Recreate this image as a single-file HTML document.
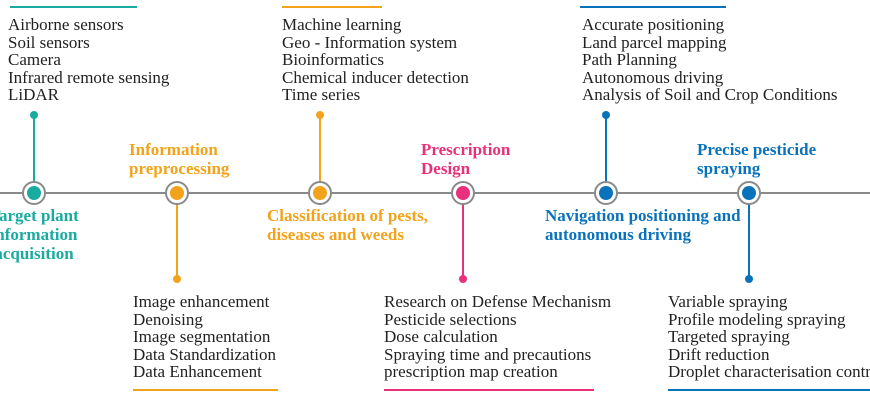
<!DOCTYPE html>
<html><head><meta charset="utf-8"><style>
body{margin:0;width:870px;height:400px;background:#fff;position:relative;overflow:hidden;font-family:"Liberation Serif",serif;}
.t{position:absolute;font-size:17px;line-height:17.5px;color:#222;white-space:nowrap;}
.l{position:absolute;font-size:17px;line-height:19px;font-weight:bold;white-space:nowrap;}
.bar{position:absolute;height:2px;}
</style></head><body>
<svg width="870" height="400" style="position:absolute;left:0;top:0">
<line x1="0" y1="193" x2="870" y2="193" stroke="#8a8a8a" stroke-width="2"/>
<g stroke-width="2">
<line x1="34" y1="115" x2="34" y2="193" stroke="#1aaba0"/>
<line x1="177" y1="193" x2="177" y2="279" stroke="#f2a31b"/>
<line x1="320" y1="115" x2="320" y2="193" stroke="#f2a31b"/>
<line x1="463" y1="193" x2="463" y2="279" stroke="#e8317a"/>
<line x1="606" y1="115" x2="606" y2="193" stroke="#0a72bb"/>
<line x1="749" y1="193" x2="749" y2="279" stroke="#0a72bb"/>
</g>
<g fill="#fff" stroke="#8a8a8a" stroke-width="2">
<circle cx="34" cy="193" r="11"/><circle cx="177" cy="193" r="11"/><circle cx="320" cy="193" r="11"/>
<circle cx="463" cy="193" r="11"/><circle cx="606" cy="193" r="11"/><circle cx="749" cy="193" r="11"/>
</g>
<circle cx="34" cy="193" r="7" fill="#1aaba0"/><circle cx="34" cy="115" r="4" fill="#1aaba0"/>
<circle cx="177" cy="193" r="7" fill="#f2a31b"/><circle cx="177" cy="279" r="4" fill="#f2a31b"/>
<circle cx="320" cy="193" r="7" fill="#f2a31b"/><circle cx="320" cy="115" r="4" fill="#f2a31b"/>
<circle cx="463" cy="193" r="7" fill="#e8317a"/><circle cx="463" cy="279" r="4" fill="#e8317a"/>
<circle cx="606" cy="193" r="7" fill="#0a72bb"/><circle cx="606" cy="115" r="4" fill="#0a72bb"/>
<circle cx="749" cy="193" r="7" fill="#0a72bb"/><circle cx="749" cy="279" r="4" fill="#0a72bb"/>
</svg>
<div class="bar" style="left:10px;top:6px;width:127px;background:#1aaba0"></div>
<div class="bar" style="left:282px;top:6px;width:100px;background:#f2a31b"></div>
<div class="bar" style="left:580px;top:6px;width:146px;background:#0a72bb"></div>
<div class="bar" style="left:133px;top:389px;width:145px;background:#f2a31b"></div>
<div class="bar" style="left:384px;top:389px;width:210px;background:#e8317a"></div>
<div class="bar" style="left:668px;top:389px;width:202px;background:#0a72bb"></div>

<div class="t" style="left:8px;top:16px">Airborne sensors<br>Soil sensors<br>Camera<br>Infrared remote sensing<br>LiDAR</div>
<div class="t" style="left:282px;top:16px">Machine learning<br>Geo - Information system<br>Bioinformatics<br>Chemical inducer detection<br>Time series</div>
<div class="t" style="left:582px;top:16px">Accurate positioning<br>Land parcel mapping<br>Path Planning<br>Autonomous driving<br>Analysis of Soil and Crop Conditions</div>
<div class="t" style="left:133px;top:293px">Image enhancement<br>Denoising<br>Image segmentation<br>Data Standardization<br>Data Enhancement</div>
<div class="t" style="left:384px;top:293px">Research on Defense Mechanism<br>Pesticide selections<br>Dose calculation<br>Spraying time and precautions<br>prescription map creation</div>
<div class="t" style="left:668px;top:293px">Variable spraying<br>Profile modeling spraying<br>Targeted spraying<br>Drift reduction<br>Droplet characterisation control</div>

<div class="l" style="left:-12px;top:206px;color:#1aaba0;text-align:center;width:92px">Target plant<br>information<br>acquisition</div>
<div class="l" style="left:129px;top:140px;color:#f2a31b">Information<br>preprocessing</div>
<div class="l" style="left:267px;top:206px;color:#f2a31b">Classification of pests,<br>diseases and weeds</div>
<div class="l" style="left:421px;top:140px;color:#e8317a">Prescription<br>Design</div>
<div class="l" style="left:545px;top:206px;color:#0a72bb">Navigation positioning and<br>autonomous driving</div>
<div class="l" style="left:697px;top:140px;color:#0a72bb">Precise pesticide<br>spraying</div>
</body></html>
